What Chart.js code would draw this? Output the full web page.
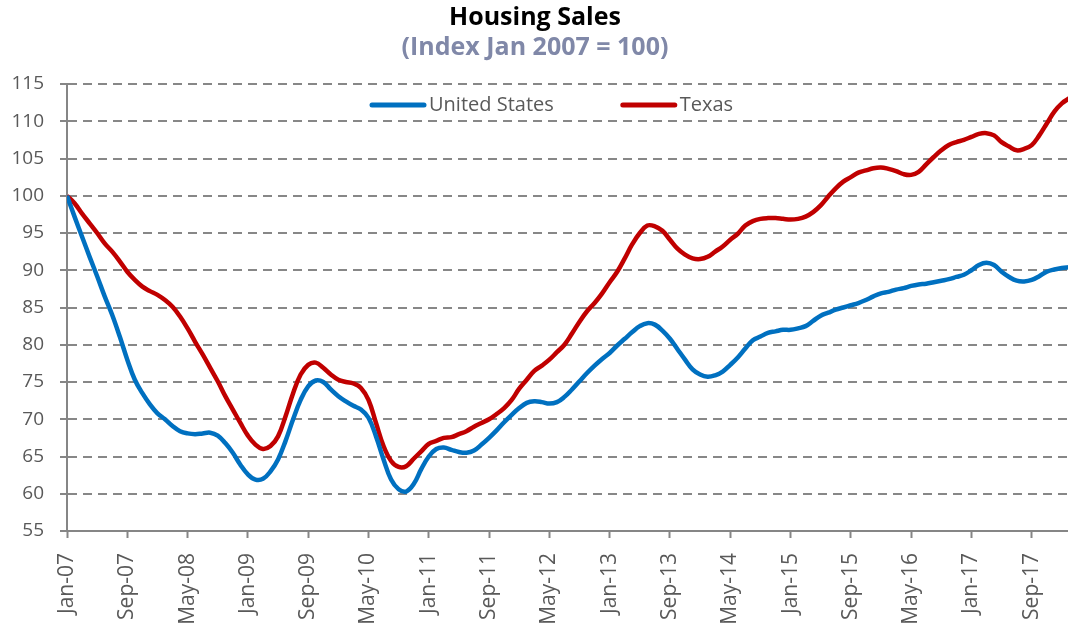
<!DOCTYPE html>
<html>
<head>
<meta charset="utf-8">
<script src="https://cdn.jsdelivr.net/npm/chart.js@4/dist/chart.umd.min.js"></script>
<style>
  html, body { margin: 0; padding: 0; overflow: hidden; background: #ffffff; }
  #wrap { width: 1072px; height: 623px; position: relative; }
</style>
</head>
<body>
<div id="wrap"><canvas id="c"></canvas></div>
<script>
// ---- Data (monthly, Jan-07 onward) ----
const tickLabels = ['Jan-07','Sep-07','May-08','Jan-09','Sep-09','May-10','Jan-11','Sep-11',
  'May-12','Jan-13','Sep-13','May-14','Jan-15','Sep-15','May-16','Jan-17','Sep-17'];

const seriesNames = ['United States', 'Texas'];

const usValues = [
  100.0, 97.2, 94.5, 91.8, 89.2, 86.5, 84.0, 81.1, 78.0, 75.3, 73.5, 72.0,
  70.8, 70.0, 69.1, 68.4, 68.1, 68.0, 68.1, 68.2, 67.8, 66.8, 65.5, 63.9,
  62.6, 61.9, 62.0, 63.0, 64.6, 67.1, 70.0, 72.6, 74.4, 75.2, 75.0, 74.0,
  73.1, 72.4, 71.8, 71.3, 70.2, 67.7, 64.6, 61.9, 60.6, 60.3, 61.3, 63.3,
  65.0, 66.0, 66.2, 65.9, 65.6, 65.5, 65.8, 66.6, 67.5, 68.5, 69.6, 70.6,
  71.5, 72.2, 72.4, 72.3, 72.1, 72.3, 73.0, 74.0, 75.1, 76.2, 77.2, 78.1,
  78.9, 79.9, 80.8, 81.7, 82.5, 82.9, 82.7, 81.9, 80.8, 79.4, 78.0, 76.7,
  76.0, 75.7, 75.9, 76.4, 77.3, 78.3, 79.5, 80.6, 81.1, 81.6, 81.8, 82.0,
  82.0, 82.2, 82.5, 83.2, 83.9, 84.3, 84.7, 85.0, 85.3, 85.6, 86.0, 86.5,
  86.9, 87.1, 87.4, 87.6, 87.9, 88.1, 88.2, 88.4, 88.6, 88.8, 89.1, 89.4,
  90.0, 90.7, 91.0, 90.7, 89.8, 89.1, 88.6, 88.5, 88.7, 89.2, 89.8, 90.1,
  90.3, 90.4
];

const txValues = [
  100.0, 99.0, 97.6, 96.3, 95.0, 93.6, 92.5, 91.2, 89.8, 88.7, 87.8, 87.2,
  86.7, 86.0, 85.1, 83.8, 82.2, 80.4, 78.7, 76.9, 75.1, 73.1, 71.3, 69.5,
  67.8, 66.6, 66.0, 66.4, 67.7, 70.4, 73.5, 76.0, 77.3, 77.6, 76.9, 76.0,
  75.3, 75.0, 74.8, 74.2, 72.6, 69.5, 66.4, 64.4, 63.6, 63.7, 64.7, 65.7,
  66.7, 67.1, 67.5, 67.6, 68.0, 68.4, 69.0, 69.5, 70.0, 70.7, 71.5, 72.6,
  74.1, 75.3, 76.5, 77.2, 78.0, 79.0, 80.0, 81.5, 83.1, 84.5, 85.6, 86.9,
  88.4, 89.8, 91.6, 93.5, 95.0, 96.0, 95.9, 95.3, 94.1, 92.9, 92.1, 91.6,
  91.5, 91.8, 92.5, 93.2, 94.1, 94.9, 96.0, 96.6, 96.9, 97.0, 97.0, 96.9,
  96.8, 96.9, 97.2, 97.8, 98.7, 99.9, 101.0, 101.9, 102.5, 103.1, 103.4, 103.7,
  103.8, 103.6, 103.3, 102.9, 102.8, 103.2, 104.2, 105.2, 106.1, 106.8, 107.2, 107.5,
  107.9, 108.3, 108.4, 108.1, 107.2, 106.6, 106.1, 106.3, 106.8, 108.1, 109.7, 111.3,
  112.4, 113.1
];

const yMin = 55, yMax = 115, yStep = 5;
const monthsPerTick = 8;

// ---- Styles ----
const FONT = "'Open Sans', 'DejaVu Sans', sans-serif";
const AXIS_GRAY = '#868686';
const TEXT_GRAY = '#595959';
const colors = ['#0070C0', '#C00000'];

Chart.defaults.font.family = FONT;

const inlineLegend = {
  id: 'inlineLegend',
  afterDatasetsDraw(chart) {
    const { ctx, chartArea } = chart;
    ctx.save();
    ctx.font = "20px " + FONT;
    ctx.textBaseline = 'middle';
    ctx.textAlign = 'left';
    let x = chartArea.left + 303;
    const y = chartArea.top + 21;
    chart.data.datasets.forEach(ds => {
      ctx.strokeStyle = ds.borderColor;
      ctx.lineWidth = 5;
      ctx.lineCap = 'round';
      ctx.beginPath();
      ctx.moveTo(x + 2, y);
      ctx.lineTo(x + 54, y);
      ctx.stroke();
      ctx.fillStyle = TEXT_GRAY;
      ctx.fillText(ds.label, x + 59, y);
      x += 59 + ctx.measureText(ds.label).width + 67;
    });
    ctx.restore();
  }
};

const toPoints = arr => arr.map((v, i) => ({ x: i, y: v }));

new Chart(document.getElementById('c'), {
  type: 'line',
  data: {
    datasets: [
      { label: seriesNames[0], data: toPoints(usValues), borderColor: colors[0], backgroundColor: colors[0],
        borderWidth: 4.5, pointRadius: 0, tension: 0.4, fill: false },
      { label: seriesNames[1], data: toPoints(txValues), borderColor: colors[1], backgroundColor: colors[1],
        borderWidth: 4.5, pointRadius: 0, tension: 0.4, fill: false }
    ]
  },
  options: {
    responsive: true,
    maintainAspectRatio: false,
    animation: false,
    layout: { padding: { left: 0, right: 2, top: 0, bottom: 0 } },
    plugins: {
      legend: { display: false },
      tooltip: { enabled: false },
      title: {
        display: true, text: 'Housing Sales', color: '#000000',
        font: { family: FONT, size: 25, weight: 'bold' },
        padding: { top: 3, bottom: 0 }
      },
      subtitle: {
        display: true, text: '(Index Jan 2007 = 100)', color: '#8088a8',
        font: { family: FONT, size: 25, weight: 'bold' },
        padding: { top: 0, bottom: 21 }
      }
    },
    scales: {
      x: {
        type: 'linear',
        min: 0,
        max: usValues.length - 1,
        afterBuildTicks: s => { s.ticks = tickLabels.map((_, i) => ({ value: i * monthsPerTick })); },
        afterFit: s => { s.height = 92; },
        ticks: {
          autoSkip: false, minRotation: 90, maxRotation: 90, padding: 15,
          color: TEXT_GRAY, font: { family: FONT, size: 21 },
          callback: (v, i) => tickLabels[i]
        },
        grid: { drawOnChartArea: false, drawTicks: true, tickLength: 7, tickColor: AXIS_GRAY, tickWidth: 2 },
        border: { display: true, color: AXIS_GRAY, width: 2 }
      },
      y: {
        min: yMin, max: yMax,
        afterFit: s => { s.width = 67; },
        ticks: { stepSize: yStep, padding: 16, color: TEXT_GRAY, font: { family: FONT, size: 19 } },
        grid: { color: '#878787', lineWidth: 2, tickLength: 7, tickColor: AXIS_GRAY, tickWidth: 2, tickBorderDash: [] },
        border: { display: true, color: AXIS_GRAY, width: 2, dash: [9, 6] }
      }
    }
  },
  plugins: [inlineLegend]
});
</script>
</body>
</html>
